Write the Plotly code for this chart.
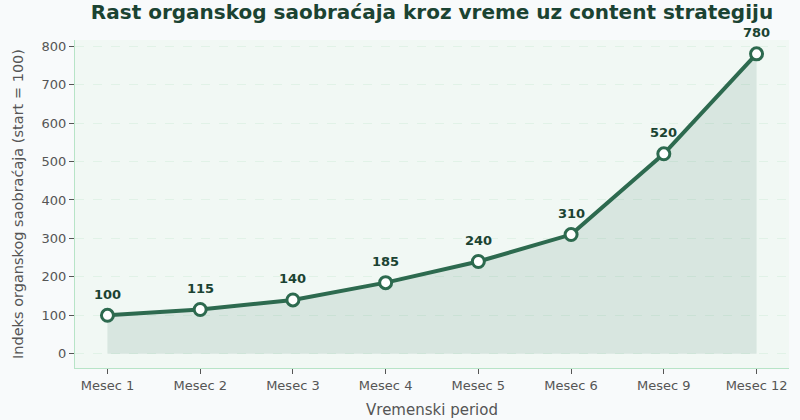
import plotly.graph_objects as go

months = ["Mesec 1", "Mesec 2", "Mesec 3", "Mesec 4", "Mesec 5", "Mesec 6", "Mesec 9", "Mesec 12"]
traffic_index = [100, 115, 140, 185, 240, 310, 520, 780]
y_ticks = [0, 100, 200, 300, 400, 500, 600, 700, 800]

title_text = "Rast organskog saobraćaja kroz vreme uz content strategiju"
x_title = "Vremenski period"
y_title = "Indeks organskog saobraćaja (start = 100)"

LINE = "#2d6a4f"
DARK = "#1b4332"
FONT = "DejaVu Sans"

fig = go.Figure()
fig.add_trace(go.Scatter(
    x=months, y=traffic_index, mode="lines", fill="tozeroy",
    fillcolor="rgba(45,106,79,0.12)",
    line=dict(color="rgba(116,198,157,0.25)", width=1.5),
    hoverinfo="skip", showlegend=False,
))
fig.add_trace(go.Scatter(
    x=months, y=traffic_index, mode="lines+markers",
    line=dict(color=LINE, width=4),
    marker=dict(size=12, color="white", line=dict(color=LINE, width=3)),
    showlegend=False, cliponaxis=False,
))
for m, v in zip(months, traffic_index):
    fig.add_annotation(x=m, y=v, text="<b>%d</b>" % v, showarrow=False,
                       yshift=21, font=dict(family=FONT, size=13, color=DARK))

fig.update_layout(
    width=800, height=420,
    margin=dict(l=75, r=11, t=40, b=52),
    paper_bgcolor="#f8fafb",
    plot_bgcolor="#f1f8f4",
    font=dict(family=FONT, color="#555555"),
    title=dict(text="<b>" + title_text + "</b>", x=0.5, xref="paper", xanchor="center",
               y=1 - 12 / 420, yref="container", yanchor="middle",
               font=dict(family=FONT, size=20, color=DARK)),
)
fig.update_xaxes(
    type="category", categoryorder="array", categoryarray=months,
    range=[-0.35, 7.35], showgrid=False, zeroline=False, automargin=False,
    showline=True, linecolor="#b7e4c7", linewidth=1.2,
    ticks="outside", ticklen=5, tickcolor="#555555",
    tickfont=dict(family=FONT, size=13, color="#555555"),
    title=dict(text=x_title, font=dict(family=FONT, size=15, color="#555555"), standoff=12),
)
fig.update_yaxes(
    range=[-37, 816], tickvals=y_ticks, zeroline=False, automargin=False,
    showgrid=True, gridcolor="rgba(183,228,199,0.28)", griddash="dash", gridwidth=0.8,
    showline=True, linecolor="#b7e4c7", linewidth=1.2,
    ticks="outside", ticklen=5, tickcolor="#555555",
    tickfont=dict(family=FONT, size=13, color="#555555"),
    title=dict(text=y_title, font=dict(family=FONT, size=14.5, color="#555555"), standoff=14),
)

fig.write_html(
    "out.html",
    config={"displayModeBar": False},
    post_script="document.body.style.margin='0';document.body.style.overflow='hidden';document.body.style.background='#f8fafb';",
)
